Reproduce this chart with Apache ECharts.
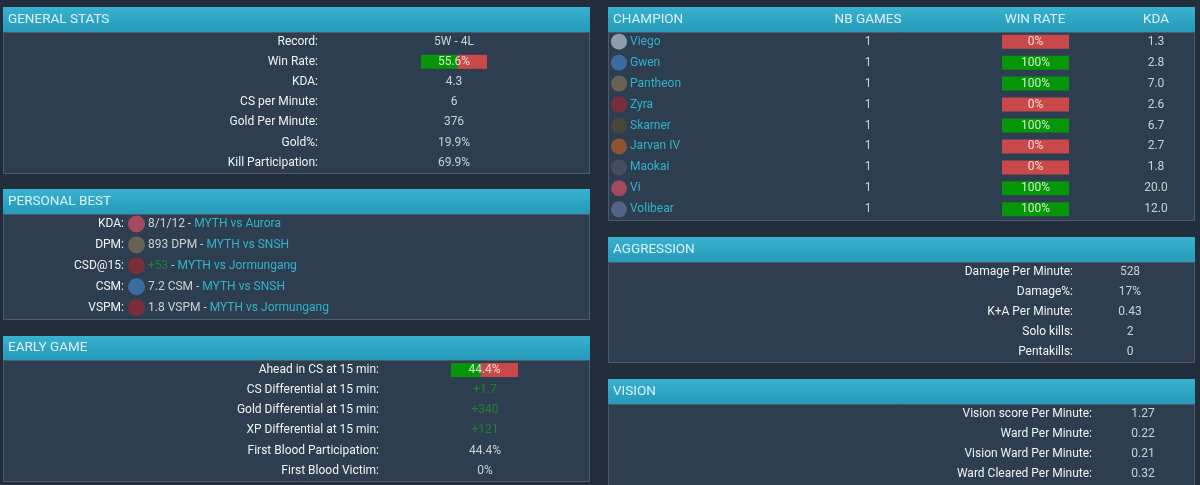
<!DOCTYPE html>
<html>
<head>
<meta charset="utf-8">
<script src="https://cdn.jsdelivr.net/npm/echarts@6/dist/echarts.min.js"></script>
<style>
  html, body { margin: 0; padding: 0; background: #222e3b; }
  #chart { width: 1200px; height: 485px; }
</style>
</head>
<body>
<div id="chart"></div>
<script>
// general stats
const generalLabels = ['Record:', 'Win Rate:', 'KDA:', 'CS per Minute:', 'Gold Per Minute:', 'Gold%:', 'Kill Participation:'];
const generalValues = ['5W - 4L', null, '4.3', '6', '376', '19.9%', '69.9%'];
const generalWinRate = [null, 55.6, null, null, null, null, null];

// personal best
const bestLabels = ['KDA:', 'DPM:', 'CSD@15:', 'CSM:', 'VSPM:'];
const bestStats = ['8/1/12', '893 DPM', '+53', '7.2 CSM', '1.8 VSPM'];
const bestGames = ['MYTH vs Aurora', 'MYTH vs SNSH', 'MYTH vs Jormungang', 'MYTH vs SNSH', 'MYTH vs Jormungang'];
const bestChamps = ['Vi', 'Pantheon', 'Zyra', 'Gwen', 'Zyra'];

// early game
const earlyLabels = ['Ahead in CS at 15 min:', 'CS Differential at 15 min:', 'Gold Differential at 15 min:',
  'XP Differential at 15 min:', 'First Blood Participation:', 'First Blood Victim:'];
const earlyValues = [null, '+1.7', '+340', '+121', '44.4%', '0%'];
const earlyAheadCs = [44.4, null, null, null, null, null];

// champion table
const champions = ['Viego', 'Gwen', 'Pantheon', 'Zyra', 'Skarner', 'Jarvan IV', 'Maokai', 'Vi', 'Volibear'];
const champGames = ['1', '1', '1', '1', '1', '1', '1', '1', '1'];
const champWinRate = [0, 100, 100, 0, 100, 0, 0, 100, 100];
const champKda = ['1.3', '2.8', '7.0', '2.6', '6.7', '2.7', '1.8', '20.0', '12.0'];

// aggression
const aggrLabels = ['Damage Per Minute:', 'Damage%:', 'K+A Per Minute:', 'Solo kills:', 'Pentakills:'];
const aggrValues = ['528', '17%', '0.43', '2', '0'];

// vision
const visionLabels = ['Vision score Per Minute:', 'Ward Per Minute:', 'Vision Ward Per Minute:', 'Ward Cleared Per Minute:'];
const visionValues = ['1.27', '0.22', '0.21', '0.32'];

// styles
const FONT = 'Roboto';
const FS = 12;
const TEXT = '#f2f2f2';
const CYAN = '#36cfe6';
const DIM_GREEN = '#23902f';
const GREEN = '#079607';
const RED = '#c9484a';
const iconColors = {
  Viego: '#a9b6c6', Gwen: '#3f78b4', Pantheon: '#7a6a58', Zyra: '#8e2b33', Skarner: '#4f4a38',
  'Jarvan IV': '#a85a2a', Maokai: '#4a5266', Vi: '#c24d62', Volibear: '#5c6c96'
};

const grid = [], xAxis = [], yAxis = [], series = [];

function addGrid(box, x, y) {
  const i = grid.length;
  grid.push(box);
  xAxis.push(Object.assign({ gridIndex: i }, x));
  yAxis.push(Object.assign({ gridIndex: i }, y));
  return i;
}

function hiddenRows(rows) {
  return { type: 'category', data: rows, inverse: true, show: false };
}

function labelRows(rows, margin) {
  return {
    type: 'category', data: rows, inverse: true,
    axisLine: { show: false }, axisTick: { show: false }, splitLine: { show: false },
    axisLabel: { color: TEXT, fontSize: FS, fontFamily: FONT, margin: margin }
  };
}

// one text column, centred in its grid
function textColumn(gi, values, colorOf) {
  series.push({
    type: 'scatter', xAxisIndex: gi, yAxisIndex: gi, symbolSize: 1, silent: true,
    itemStyle: { color: 'rgba(0,0,0,0)' },
    data: values.map((v, i) => v == null ? null : {
      value: [0, i],
      label: { color: colorOf ? colorOf(v) : TEXT }
    }).filter(d => d),
    label: {
      show: true, position: 'inside', fontSize: FS, fontFamily: FONT,
      formatter: p => values[p.value[1]]
    }
  });
}

// label/value panel
function keyValue(rows, values, box, labelRight, valueCenter, colorOf) {
  const left = labelRight + 8;
  const gi = addGrid({ left: left, top: box.top, height: box.height, width: 2 * (valueCenter - left) },
    { type: 'category', data: ['v'], show: false }, labelRows(rows, 8));
  textColumn(gi, values, colorOf);
}

// green / red win-rate bars
function winBars(rows, pcts, box) {
  const gi = addGrid(box, { type: 'value', min: 0, max: 100, show: false }, hiddenRows(rows));
  series.push({
    type: 'bar', xAxisIndex: gi, yAxisIndex: gi, stack: 'wr' + gi, barWidth: 14, silent: true,
    itemStyle: { color: GREEN }, data: pcts.map(p => p == null ? '-' : p)
  });
  series.push({
    type: 'bar', xAxisIndex: gi, yAxisIndex: gi, stack: 'wr' + gi, barWidth: 14, silent: true,
    itemStyle: { color: RED }, data: pcts.map(p => p == null ? '-' : 100 - p)
  });
  series.push({
    type: 'scatter', xAxisIndex: gi, yAxisIndex: gi, symbolSize: 1, silent: true, z: 5,
    itemStyle: { color: 'rgba(0,0,0,0)' },
    data: pcts.map((p, i) => p == null ? null : [50, i]).filter(d => d),
    label: {
      show: true, position: 'inside', color: '#ffffff', fontSize: FS, fontFamily: FONT,
      formatter: p => pcts[p.value[1]] + '%'
    }
  });
}

// GENERAL STATS
keyValue(generalLabels, generalValues, { top: 31.6, height: 141.2 }, 318, 454);
winBars(generalLabels, generalWinRate, { left: 421, width: 66, top: 31.6, height: 141.2 });

// PERSONAL BEST
const bestGrid = addGrid({ left: 128, width: 17, top: 213.5, height: 104.6 },
  { type: 'category', data: ['i'], show: false }, labelRows(bestLabels, 4));
series.push({
  type: 'scatter', xAxisIndex: bestGrid, yAxisIndex: bestGrid, symbolSize: 17, silent: true,
  data: bestLabels.map((l, i) => ({ value: [0, i], itemStyle: { color: iconColors[bestChamps[i]] } })),
  label: {
    show: true, position: 'right', distance: 3, fontSize: FS, fontFamily: FONT,
    formatter: p => {
      const s = bestStats[p.value[1]];
      return (s.charAt(0) === '+' ? '{p|' : '{w|') + s + '}{w| - }{c|' + bestGames[p.value[1]] + '}';
    },
    rich: {
      w: { color: TEXT, fontSize: FS, fontFamily: FONT },
      p: { color: DIM_GREEN, fontSize: FS, fontFamily: FONT },
      c: { color: CYAN, fontSize: FS, fontFamily: FONT }
    }
  }
});

// EARLY GAME
keyValue(earlyLabels, earlyValues, { top: 360, height: 120.8 }, 379, 485,
  v => v.charAt(0) === '+' ? DIM_GREEN : TEXT);
winBars(earlyLabels, earlyAheadCs, { left: 451, width: 67, top: 360, height: 120.8 });

// CHAMPION table
const champBox = { top: 31.2, height: 188.6 };
const nameGrid = addGrid(Object.assign({ left: 611, width: 16 }, champBox),
  { type: 'category', data: ['i'], show: false }, hiddenRows(champions));
series.push({
  type: 'scatter', xAxisIndex: nameGrid, yAxisIndex: nameGrid, symbolSize: 16, silent: true,
  data: champions.map((c, i) => ({ value: [0, i], itemStyle: { color: iconColors[c] } })),
  label: {
    show: true, position: 'right', distance: 3, color: CYAN, fontSize: FS, fontFamily: FONT,
    formatter: p => champions[p.value[1]]
  }
});
const gamesGrid = addGrid(Object.assign({ left: 858, width: 20 }, champBox),
  { type: 'category', data: ['v'], show: false }, hiddenRows(champions));
textColumn(gamesGrid, champGames);
winBars(champions, champWinRate, Object.assign({ left: 1002, width: 67 }, champBox));
const kdaGrid = addGrid(Object.assign({ left: 1140, width: 32 }, champBox),
  { type: 'category', data: ['v'], show: false }, hiddenRows(champions));
textColumn(kdaGrid, champKda);

// AGGRESSION / VISION
keyValue(aggrLabels, aggrValues, { top: 261.7, height: 100 }, 1073, 1130);
keyValue(visionLabels, visionValues, { top: 404, height: 79.6 }, 1092, 1143);

// panel chrome
const panels = [
  { x: 3, y: 7, w: 586, hh: 25, bh: 141, title: 'GENERAL STATS' },
  { x: 3, y: 189, w: 586, hh: 25, bh: 105, title: 'PERSONAL BEST' },
  { x: 3, y: 336, w: 586, hh: 24, bh: 121, title: 'EARLY GAME' },
  { x: 608, y: 7, w: 586, hh: 25, bh: 188, title: 'CHAMPION' },
  { x: 608, y: 237, w: 586, hh: 25, bh: 100, title: 'AGGRESSION' },
  { x: 608, y: 379, w: 586, hh: 25, bh: 120, title: 'VISION' }
];
const headerFill = new echarts.graphic.LinearGradient(0, 0, 0, 1, [
  { offset: 0, color: '#38b2cf' }, { offset: 1, color: '#2699b8' }
]);
const HEAD_FONT = '13.5px Roboto';
const graphic = [];
panels.forEach(p => {
  graphic.push({
    type: 'rect', z: -10, silent: true,
    shape: { x: p.x + 0.5, y: p.y + p.hh + 0.5, width: p.w, height: p.bh },
    style: { fill: '#2c3e50', stroke: '#4b5b6c', lineWidth: 1 }
  });
  graphic.push({
    type: 'rect', z: -9, silent: true,
    shape: { x: p.x, y: p.y, width: p.w + 1, height: p.hh },
    style: { fill: headerFill }
  });
  graphic.push({
    type: 'text', z: -8, silent: true, x: p.x + 5, y: p.y + p.hh / 2,
    style: { text: p.title, fill: '#dcf2f8', font: HEAD_FONT, textVerticalAlign: 'middle' }
  });
});
[['NB GAMES', 868], ['WIN RATE', 1035], ['KDA', 1156]].forEach(h => {
  graphic.push({
    type: 'text', z: -8, silent: true, x: h[1], y: 19.5,
    style: { text: h[0], fill: '#dcf2f8', font: HEAD_FONT, textAlign: 'center', textVerticalAlign: 'middle' }
  });
});

const chart = echarts.init(document.getElementById('chart'));
chart.setOption({
  backgroundColor: '#222e3b',
  animation: false,
  tooltip: { show: false },
  graphic: graphic,
  grid: grid,
  xAxis: xAxis,
  yAxis: yAxis,
  series: series
});
</script>
</body>
</html>
